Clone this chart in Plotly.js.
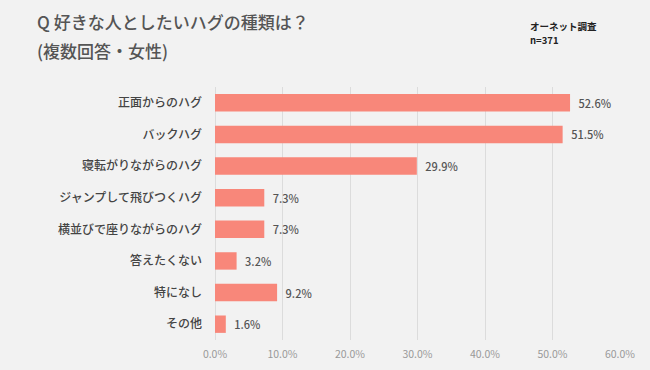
<!DOCTYPE html>
<html><head><meta charset="utf-8">
<script src="https://cdn.plot.ly/plotly-3.0.1.min.js"></script>
<style>html,body{margin:0;padding:0;background:#f2f2f2;}</style>
</head><body><div id="chart" style="width:650px;height:370px;"></div>
<script>
const categories = ["正面からのハグ","バックハグ","寝転がりながらのハグ","ジャンプして飛びつくハグ","横並びで座りながらのハグ","答えたくない","特になし","その他"];
const values = [52.6,51.5,29.9,7.3,7.3,3.2,9.2,1.6];
const tickVals = [0,10,20,30,40,50,60];
const tickText = ["0.0%","10.0%","20.0%","30.0%","40.0%","50.0%","60.0%"];
const font = "Noto Sans CJK JP";
const PW = 405, PH = 253, L = 215, T = 87;
Plotly.newPlot('chart',[{
  type:'bar', orientation:'h',
  x: values, y: categories,
  marker:{color:'#f8877a'},
  text: values.map(v=>'\u2002'+v.toFixed(1)+'%'),
  textposition:'outside', cliponaxis:false,
  textfont:{family:font,size:11,color:'#555',weight:500},
  hoverinfo:'none'
}],{
  width:650,height:370,
  paper_bgcolor:'#f2f2f2',plot_bgcolor:'#f2f2f2',
  margin:{l:L,r:30,t:T,b:30},
  bargap:0.45,
  showlegend:false,
  font:{family:font},
  xaxis:{range:[0,60],tickvals:tickVals,ticktext:tickText,showgrid:true,gridcolor:'#dcdcdc',gridwidth:1,zeroline:true,zerolinecolor:'#dcdcdc',tickfont:{family:font,size:10.5,color:'#999'},ticklabelstandoff:6,fixedrange:true,showline:false},
  yaxis:{categoryorder:'array',categoryarray:categories,autorange:'reversed',tickfont:{family:font,size:12,color:'#444',weight:500},ticks:'',ticklen:0,ticklabelstandoff:12,showline:false,automargin:false},
  annotations:[
    {xref:'paper',yref:'paper',x:(35-L)/PW,y:1+(T-22)/PH,xanchor:'left',align:'left',yanchor:'middle',showarrow:false,text:'Q 好きな人としたいハグの種類は？',font:{family:font,size:17,color:'#555',weight:500}},
    {xref:'paper',yref:'paper',x:(35-L)/PW,y:1+(T-51)/PH,xanchor:'left',align:'left',yanchor:'middle',showarrow:false,text:'(複数回答・女性)',font:{family:font,size:17,color:'#555',weight:500}},
    {xref:'paper',yref:'paper',x:(528-L)/PW,y:1+(T-26)/PH,xanchor:'left',align:'left',yanchor:'middle',showarrow:false,text:'オーネット調査',font:{family:font,size:9.5,color:'#222',weight:700}},
    {xref:'paper',yref:'paper',x:(528-L)/PW,y:1+(T-40)/PH,xanchor:'left',align:'left',yanchor:'middle',showarrow:false,text:'n=371',font:{family:font,size:9.5,color:'#222',weight:700}}
  ]
},{displayModeBar:false,staticPlot:true});
</script></body></html>
